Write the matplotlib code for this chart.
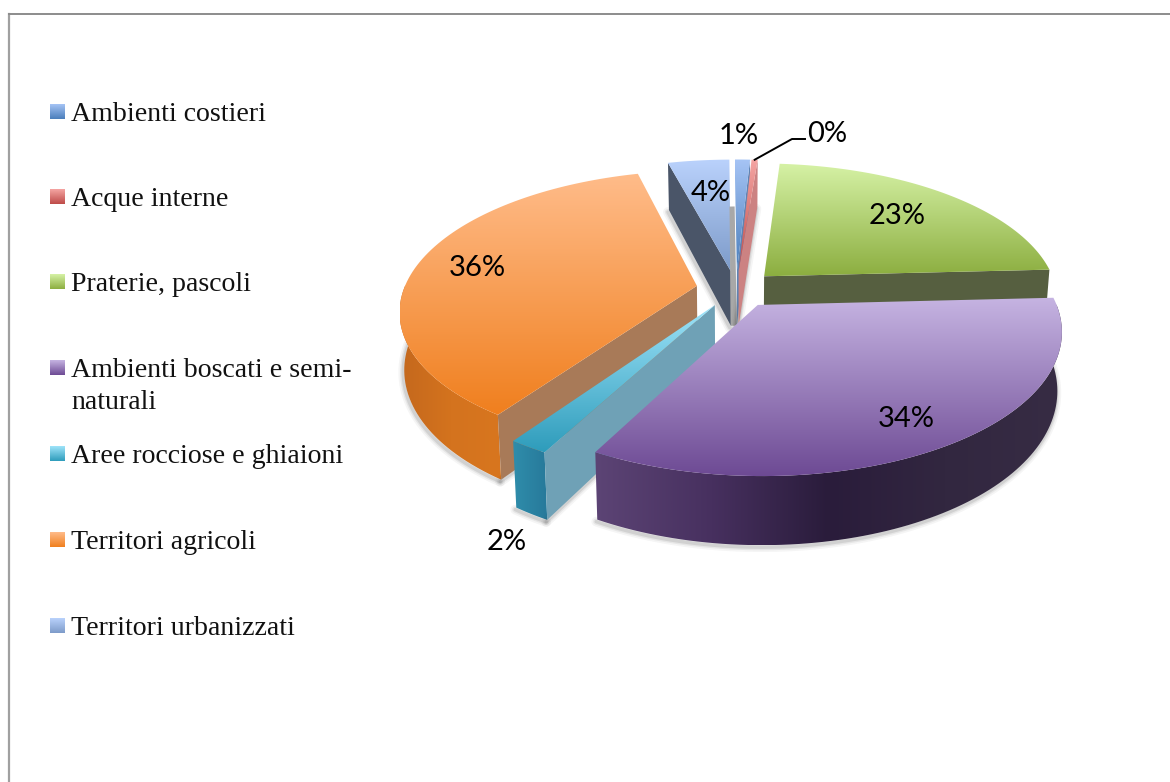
import matplotlib
matplotlib.use("Agg")
import matplotlib.pyplot as plt
import numpy as np
from matplotlib.colors import LinearSegmentedColormap
from matplotlib.patches import Polygon

categories = ['Ambienti costieri', 'Acque interne', 'Praterie, pascoli',
              'Ambienti boscati e semi-\nnaturali', 'Aree rocciose e ghiaioni',
              'Territori agricoli', 'Territori urbanizzati']
shares = [1.0, 0.4, 22.9, 33.6, 1.8, 36.2, 4.0]

# top face gradient (light, dark), one pair per slice
top_colors = [('#a6c4f5', '#4a7ebb'), ('#f5a5a3', '#be4b48'), ('#d6f2a6', '#8cae40'),
              ('#c6b4e2', '#6d4a94'), ('#9fe4fa', '#2e9cbb'), ('#ffbc8a', '#f07f1e'),
              ('#bad2fc', '#7d9bc9')]
radial_colors = ['#5f84b4', '#cc8282', '#565f40', '#4a3a5c', '#6fa1b6', '#a87a58', '#4a5568']
wall_stops = [['#a0a0a0'], ['#b08080'], ['#6f8030'],
              ['#5c4475', '#47305f', '#2a1c3b', '#322740', '#372c44'],
              ['#2f8dab', '#27799a'], ['#c4681d', '#d4731e', '#d8761f'], ['#a0a0a0']]

# projection of the tilted disc
CX, CY = 736, 289
RADIUS = 293
TILT = 136
PERSP = 0.17
DEPTH = 56
CONVERGE = 0.014
EXPLODE = 0.136
ROT = -0.5

label_pos = [(739, 136), (827, 134), (897, 216), (906, 419), (507, 542), (477, 268), (711, 193)]
legend_y = [113, 198, 283, 369, 455, 541, 627]


def project(u, z):
    s = 1 / (1 - PERSP * z)
    return CX + s * RADIUS * u, CY + s * TILT * z, s


def dropped(pts):
    return [(x + (CX - x) * CONVERGE, y + DEPTH * s) for x, y, s in pts]


def gradient_fill(ax, pts, stops, vertical=True, zorder=2):
    pts = np.array([p[:2] for p in pts])
    x0, y0 = pts.min(axis=0)
    x1, y1 = pts.max(axis=0)
    if len(stops) == 1:
        stops = [stops[0], stops[0]]
    cmap = LinearSegmentedColormap.from_list('g', stops)
    ramp = np.linspace(0, 1, 256)
    ramp = ramp[:, None] if vertical else ramp[None, :]
    im = ax.imshow(ramp, cmap=cmap, extent=(x0, x1, y1, y0), aspect='auto',
                   interpolation='bilinear', zorder=zorder)
    im.set_clip_path(Polygon(pts, closed=True, transform=ax.transData))


def soft_shadow(ax, pts, zorder=2):
    pts = np.array([p[:2] for p in pts])
    for lw, a in [(7, 0.05), (4.5, 0.08), (2.5, 0.12)]:
        ax.plot(pts[:, 0] - 1, pts[:, 1] + 2, color='#404040', lw=lw, alpha=a,
                solid_capstyle='round', zorder=zorder)


fig = plt.figure(figsize=(11.7, 7.82), dpi=100)
ax = fig.add_axes([0, 0, 1, 1])
ax.axis('off')

total = sum(shares)
edges = ROT + np.concatenate([[0], np.cumsum(shares)]) / total * 360
draw_order = [6, 0, 1, 2, 5, 4, 3]
arc_mid = {}
arc_ends = {}

for z_base, i in enumerate(draw_order):
    a0, a1 = edges[i], edges[i + 1]
    mid = np.radians((a0 + a1) / 2)
    ou, oz = EXPLODE * np.sin(mid), -EXPLODE * np.cos(mid)
    th = np.radians(np.linspace(a0, a1, 90))
    apex = project(ou, oz)
    arc = [project(ou + np.sin(t), oz - np.cos(t)) for t in th]
    arc_mid[i] = arc[45]
    arc_ends[i] = (arc[0], arc[-1], apex)
    zo = 2 + z_base

    # outer wall, only the part turned to the viewer
    front = [p for p, t in zip(arc, th) if np.cos(t) < 0.02]
    if front:
        wall = front + dropped(front)[::-1]
        soft_shadow(ax, dropped(front), zorder=zo)
        gradient_fill(ax, wall, wall_stops[i], vertical=False, zorder=zo)

    # cut faces of the wedge
    if a1 < 180:
        end = [arc[-1], apex]
        soft_shadow(ax, dropped(end), zorder=zo)
        ax.add_patch(Polygon(dropped(end) + [p[:2] for p in end[::-1]], closed=True,
                             fc=radial_colors[i], ec='none', zorder=zo))
    if a0 > 180:
        start = [arc[0], apex]
        soft_shadow(ax, dropped(start), zorder=zo)
        ax.add_patch(Polygon(dropped(start) + [p[:2] for p in start[::-1]], closed=True,
                             fc=radial_colors[i], ec='none', zorder=zo))

    gradient_fill(ax, [apex] + arc, top_colors[i], zorder=zo)

# grey shade on the floor in the gap between the two back slices
urban_end, urban_apex = arc_ends[6][1], arc_ends[6][2]
coast_start, coast_apex = arc_ends[0][0], arc_ends[0][2]
gap = dropped([urban_end, coast_start, coast_apex, urban_apex])
ax.add_patch(Polygon(gap, closed=True, fc='#a8a8a8', ec='none', zorder=2.5))

# percentage labels
for share, (x, y) in zip(shares, label_pos):
    ax.text(x, y, f'{share:.0f}%', ha='center', va='center', family='Lato',
            fontsize=21, color='black', zorder=20)

# leader line of the smallest slice
lx, ly, _ = arc_mid[1]
ax.plot([lx, 792, 805], [ly, 139, 139], color='black', lw=1.4, zorder=20)

# legend
for i, (name, y) in enumerate(zip(categories, legend_y)):
    swatch = [(50, y - 9), (65, y - 9), (65, y + 6), (50, y + 6)]
    gradient_fill(ax, swatch, top_colors[i], zorder=5)
    for k, line in enumerate(name.split('\n')):
        ax.text(71, y + 8 + 32 * k, line, ha='left', va='baseline',
                family='Liberation Serif', fontsize=20.1, color='#111111')

# chart frame
ax.plot([9, 9], [782, 13.5], color='#a0a0a0', lw=1.6, zorder=1)
ax.plot([9, 1170], [13.5, 13.5], color='#8c8c8c', lw=1.4, zorder=1)

ax.set_xlim(0, 1170)
ax.set_ylim(782, 0)
fig.savefig('out.png', dpi=100, facecolor='white')
